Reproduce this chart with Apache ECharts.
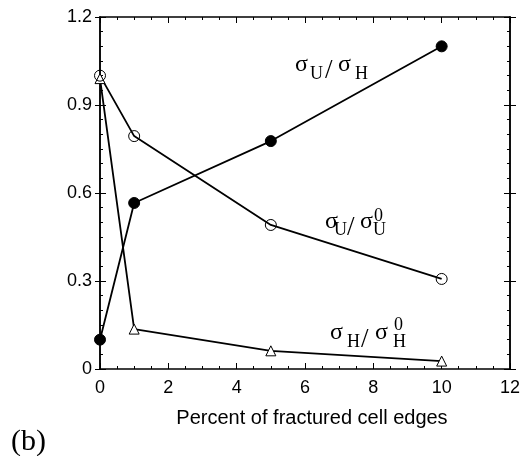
<!DOCTYPE html>
<html>
<head>
<meta charset="utf-8">
<script src="https://cdn.jsdelivr.net/npm/echarts@6/dist/echarts.min.js"></script>
<style>
  html, body { margin: 0; padding: 0; background: #fff; }
  #chart { width: 523px; height: 456px; }
</style>
</head>
<body>
<div id="chart"></div>
<script>
// percent of fractured cell edges
const xVals = [0, 1, 5, 10];
const ratioUH = [0.1, 0.566, 0.777, 1.1];     // sigma_U / sigma_H
const ratioUU0 = [1.0, 0.794, 0.491, 0.307];  // sigma_U / sigma_U^0
const ratioHH0 = [0.99, 0.136, 0.062, 0.027]; // sigma_H / sigma_H^0

const xTitle = 'Percent of fractured cell edges';
const panelTag = '(b)';

const pairs = (ys) => xVals.map((x, i) => [x, ys[i]]);

const chart = echarts.init(document.getElementById('chart'));

const sans = 'Liberation Sans';
const serif = 'Liberation Serif';

const axisBase = (extra) => Object.assign({
  type: 'value',
  axisLine: { show: true, onZero: false, lineStyle: { color: '#000', width: 1.5 } },
  axisTick: { show: true, inside: true, length: 6, lineStyle: { color: '#000', width: 1 } },
  minorTick: { show: true, length: 3, lineStyle: { color: '#000', width: 1 } },
  splitLine: { show: false },
  axisLabel: { show: false }
}, extra);

// place glyph pieces by baseline (middle align shifted by ~0.32em)
function piece(text, x, base, size) {
  return {
    type: 'text',
    x: x,
    y: base - size * 0.32,
    style: { text: text, fontSize: size, fontFamily: serif, fill: '#000', textVerticalAlign: 'middle' }
  };
}

const labelPieces = [
  // sigma_U / sigma_H
  piece('σ', 295, 72, 24), piece('U', 310, 80, 18), piece('/', 325, 80, 27),
  piece('σ', 338, 72, 24), piece('H', 355, 80, 18),
  // sigma_U / sigma_U^0
  piece('σ', 325, 229, 24), piece('U', 334, 236, 18), piece('/', 347, 237, 27),
  piece('σ', 360, 229, 24), piece('0', 374, 222, 18), piece('U', 373, 236, 18),
  // sigma_H / sigma_H^0
  piece('σ', 330, 340, 24), piece('H', 347, 348, 18), piece('/', 361, 349, 27),
  piece('σ', 375, 340, 24), piece('0', 394, 331, 18), piece('H', 393, 348, 18),
  // panel tag
  piece(panelTag, 11, 452, 30)
];

const option = {
  backgroundColor: '#fff',
  animation: false,
  grid: { left: 100, right: 12, top: 17, bottom: 87 },
  xAxis: [
    axisBase({
      min: 0, max: 12, interval: 2, position: 'bottom',
      minorTick: { show: true, splitNumber: 4, length: 3, lineStyle: { color: '#000' } },
      axisLabel: { show: true, color: '#000', fontFamily: sans, fontSize: 18, margin: 10 },
      name: xTitle, nameLocation: 'middle', nameGap: 39,
      nameTextStyle: { color: '#000', fontFamily: sans, fontSize: 20, padding: [0, 0, 0, 14] }
    }),
    axisBase({
      min: 0, max: 12, interval: 2, position: 'top',
      minorTick: { show: true, splitNumber: 4, length: 3, lineStyle: { color: '#000' } }
    })
  ],
  yAxis: [
    axisBase({
      min: 0, max: 1.2, interval: 0.3, position: 'left',
      minorTick: { show: true, splitNumber: 6, length: 3, lineStyle: { color: '#000' } },
      axisLabel: { show: true, color: '#000', fontFamily: sans, fontSize: 18, margin: 8 }
    }),
    axisBase({
      min: 0, max: 1.2, interval: 0.3, position: 'right',
      minorTick: { show: true, splitNumber: 6, length: 3, lineStyle: { color: '#000' } }
    }),
    axisBase({
      min: 0, max: 1.2, interval: 0.3, position: 'left',
      axisTick: { show: true, inside: false, length: 5, lineStyle: { color: '#000' } },
      minorTick: { show: false }
    }),
    axisBase({
      min: 0, max: 1.2, interval: 0.3, position: 'right',
      axisTick: { show: true, inside: false, length: 6, lineStyle: { color: '#000' } },
      minorTick: { show: false }
    })
  ],
  series: [
    {
      type: 'line', data: pairs(ratioHH0), symbol: 'triangle', symbolSize: 10,
      lineStyle: { color: '#000', width: 1.8 },
      itemStyle: { color: '#fff', borderColor: '#000', borderWidth: 1 }
    },
    {
      type: 'line', data: pairs(ratioUU0), symbol: 'circle', symbolSize: 11,
      lineStyle: { color: '#000', width: 1.8 },
      itemStyle: { color: 'rgba(255,255,255,0)', borderColor: '#000', borderWidth: 1 }
    },
    {
      type: 'line', data: pairs(ratioUH), symbol: 'circle', symbolSize: 11,
      lineStyle: { color: '#000', width: 1.8 },
      itemStyle: { color: '#000', borderColor: '#000', borderWidth: 1 }
    }
  ],
  graphic: labelPieces
};

chart.setOption(option);
</script>
</body>
</html>
